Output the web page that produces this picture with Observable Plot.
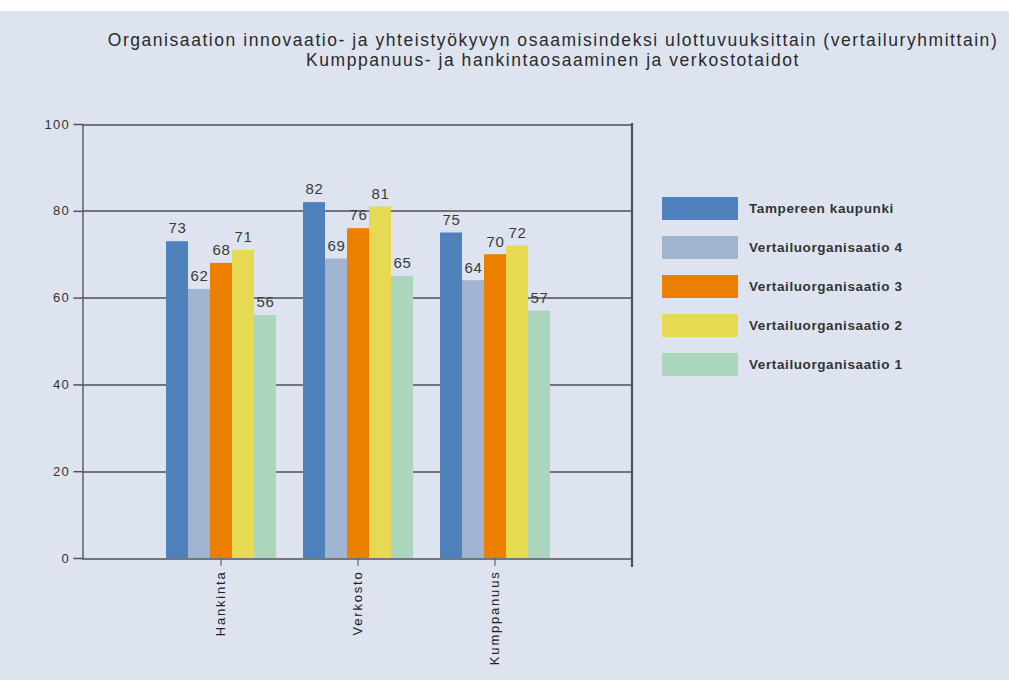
<!DOCTYPE html>
<html>
<head>
<meta charset="utf-8">
<script src="https://cdn.jsdelivr.net/npm/d3@7"></script>
<script src="https://cdn.jsdelivr.net/npm/@observablehq/plot@0.6"></script>
<style>
  html, body { margin: 0; padding: 0; background: #fff; width: 1009px; height: 680px; overflow: hidden; }
  #bg { position: absolute; left: 0; top: 11px; width: 1009px; height: 669px; background: #dde4f0; }
  #title { position: absolute; left: 80px; width: 946px; top: 30px; text-align: center;
           font-family: "Liberation Sans", Arial, sans-serif; font-size: 17.5px; line-height: 20px; color: #2a2a2a; letter-spacing: 1.55px; }
  #chart { position: absolute; left: 0; top: 100px; }
  #chart g[aria-label="y-axis tick label"] text { letter-spacing: 1.2px; }
  #chart g[aria-label="fx-axis tick label"] text { letter-spacing: 1.8px; }
  #chart g[aria-label="text"] text { letter-spacing: 0.6px; }
  #legend { position: absolute; left: 662px; top: 189px; font-family: "Liberation Sans", Arial, sans-serif;
            font-size: 13.5px; font-weight: bold; color: #333; letter-spacing: 0.6px; }
  .item { display: flex; align-items: center; height: 39px; }
  .sw { width: 76px; height: 23px; margin-right: 11px; box-sizing: border-box; }
</style>
</head>
<body>
<div id="bg"></div>
<div id="title"></div>
<div id="chart"></div>
<div id="legend"></div>
<script>
const titleLines = [
  "Organisaation innovaatio- ja yhteistyökyvyn osaamisindeksi ulottuvuuksittain (vertailuryhmittain)",
  "Kumppanuus- ja hankintaosaaminen ja verkostotaidot"
];
const groups = ["Hankinta", "Verkosto", "Kumppanuus"];
const series = ["Tampereen kaupunki", "Vertailuorganisaatio 4", "Vertailuorganisaatio 3", "Vertailuorganisaatio 2", "Vertailuorganisaatio 1"];
const colors = ["#4f81bd", "#a0b4cf", "#ec7e00", "#e6da52", "#acd5bd"];
const tampere = [73, 82, 75];
const vertailu4 = [62, 69, 64];
const vertailu3 = [68, 76, 70];
const vertailu2 = [71, 81, 72];
const vertailu1 = [56, 65, 57];
const yTicks = [0, 20, 40, 60, 80, 100];

document.getElementById("title").innerHTML = titleLines.map(t => `<div>${t}</div>`).join("");

const valuesBySeries = [tampere, vertailu4, vertailu3, vertailu2, vertailu1];
const data = [];
groups.forEach((g, gi) => series.forEach((s, si) => data.push({group: g, series: s, value: valuesBySeries[si][gi]})));

const W = 660, H = 580, ML = 83, MR = 28, MT = 24, MB = 122;
const font = "Liberation Sans, Arial, sans-serif";
// facet step, with half a step of outer padding on each side
const step = (W - ML - MR) / (groups.length + 1);

const plot = Plot.plot({
  width: W, height: H,
  marginLeft: ML, marginRight: MR, marginTop: MT, marginBottom: MB,
  style: {background: "transparent", fontFamily: font, fontSize: "12px", color: "#333"},
  fx: {domain: groups, paddingInner: 0, paddingOuter: 0.5, axis: null, label: null},
  x: {domain: series, paddingInner: 0, paddingOuter: 0.58, axis: null, label: null},
  y: {domain: [0, 100], axis: null, label: null},
  color: {domain: series, range: colors},
  marks: [
    Plot.ruleY(yTicks, {stroke: "#74767d", strokeWidth: 2, shapeRendering: "crispEdges",
                        insetLeft: -step / 2 - 1, insetRight: -step / 2 - 1}),
    Plot.barY(data, {fx: "group", x: "series", y: "value", fill: "series", inset: 0}),
    Plot.text(data, {fx: "group", x: "series", y: "value", text: d => String(d.value), dy: -13,
                     fill: "#3a3a3a", fontSize: 15, fontFamily: font}),
    Plot.axisY({ticks: yTicks, dx: -step / 2, tickSize: 10, tickPadding: 4, stroke: "#555", strokeWidth: 1.5,
                fontSize: 13, fill: "#333", label: null}),
    Plot.axisFx({tickSize: 8, tickPadding: 4, tickRotate: -90, stroke: "#555",
                 fontSize: 13, fill: "#222", label: null, anchor: "bottom"})
  ]
});
document.getElementById("chart").appendChild(plot);

// outer frame lines (left axis line and right border) from the y scale
const y = plot.scale("y");
const svg = d3.select(plot);
svg.append("line").attr("x1", ML).attr("x2", ML)
  .attr("y1", y.apply(100)).attr("y2", y.apply(0))
  .attr("stroke", "#5f6168").attr("stroke-width", 1.5);
svg.append("line").attr("x1", W - MR).attr("x2", W - MR)
  .attr("y1", y.apply(100) - 1).attr("y2", y.apply(0) + 9)
  .attr("stroke", "#4f5158").attr("stroke-width", 2.2);

const legend = d3.select("#legend");
series.forEach((s, i) => {
  const item = legend.append("div").attr("class", "item");
  item.append("div").attr("class", "sw").style("background", colors[i]);
  item.append("div").text(s);
});
</script>
</body>
</html>
